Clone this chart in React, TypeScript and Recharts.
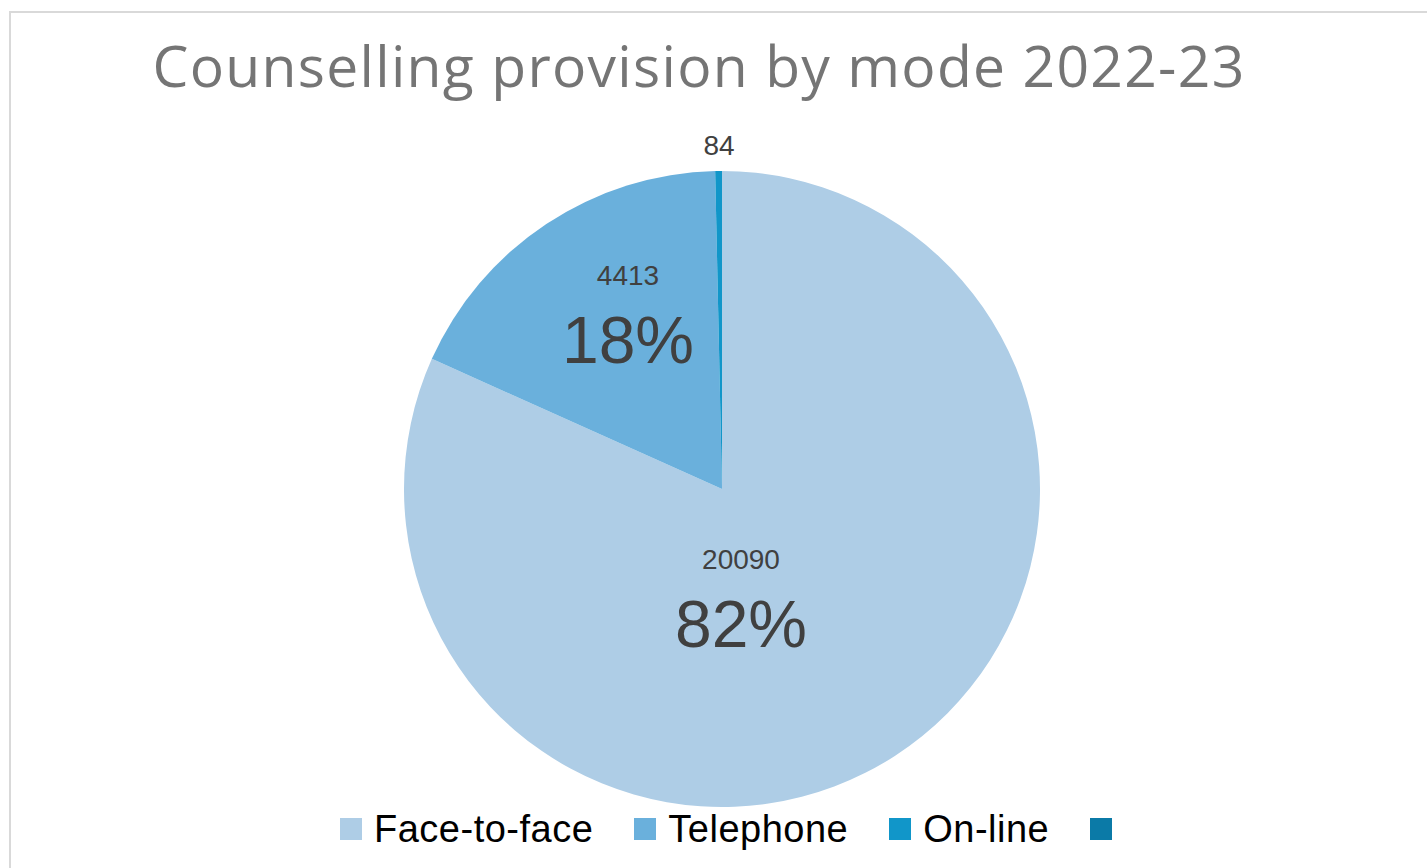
import React from 'react';
import { PieChart, Pie, Cell } from 'recharts';

const modes = ['Face-to-face', 'Telephone', 'On-line', ''];
const sessions = [20090, 4413, 84, 0];
const colors = ['#AECDE6', '#6AB0DC', '#1196C9', '#0B7AA7'];

const total = sessions.reduce((a, b) => a + b, 0);
const data = modes.map((name, i) => ({ name, value: sessions[i] }));

// where Excel's "best fit" put each data label, relative to the pie centre
const labelOffsets = [
  { dx: 19, dy: 80, pct: true },
  { dx: -94, dy: -204, pct: true },
  { dx: -3, dy: -334, pct: false },
];

const labelFont = "'Liberation Sans', Arial, sans-serif";

function renderLabel(props: any) {
  const { cx, cy, index, value } = props;
  const off = labelOffsets[index];
  if (!off || !value) return null;
  const x = cx + off.dx;
  const y = cy + off.dy;
  return (
    <g key={`lbl-${index}`}>
      <text x={x} y={y} textAnchor="middle" fill="#404040" fontSize={28} fontFamily={labelFont}>
        {value}
      </text>
      {off.pct && (
        <text x={x} y={y + 78} textAnchor="middle" fill="#404040" fontSize={66} fontFamily={labelFont}>
          {Math.round((value / total) * 100)}%
        </text>
      )}
    </g>
  );
}

export default function App() {
  return (
    <div style={{ position: 'fixed', left: 0, top: 0, width: 1427, height: 868, overflow: 'hidden', background: '#fff' }}>
      <div
        style={{
          position: 'absolute',
          left: 9,
          top: 11,
          width: 1440,
          height: 900,
          border: '2px solid #d9d9d9',
          boxSizing: 'border-box',
        }}
      />
      <div
        style={{
          position: 'absolute',
          left: 0,
          top: 27,
          width: 1398,
          textAlign: 'center',
          fontFamily: "'Open Sans', sans-serif",
          fontSize: 57,
          letterSpacing: 1.3,
          lineHeight: '76px',
          color: '#757575',
          whiteSpace: 'nowrap',
        }}
      >
        Counselling provision by mode 2022-23
      </div>
      <div style={{ position: 'absolute', left: 0, top: 0 }}>
        <PieChart width={1427} height={868} margin={{ top: 0, right: 0, bottom: 0, left: 0 }}>
          <Pie
            data={data}
            dataKey="value"
            nameKey="name"
            cx={722}
            cy={489}
            outerRadius={318}
            startAngle={90}
            endAngle={-270}
            stroke="none"
            label={renderLabel}
            labelLine={false}
            isAnimationActive={false}
          >
            {data.map((d, i) => (
              <Cell key={d.name + i} fill={colors[i]} />
            ))}
          </Pie>
        </PieChart>
      </div>
      <div
        style={{
          position: 'absolute',
          left: 340,
          top: 808,
          display: 'flex',
          alignItems: 'center',
          fontFamily: labelFont,
          fontSize: 38,
          letterSpacing: 0.5,
          color: '#000',
          whiteSpace: 'nowrap',
        }}
      >
        {modes.map((m, i) => (
          <div key={i} style={{ display: 'flex', alignItems: 'center', marginRight: 41 }}>
            <span style={{ display: 'inline-block', width: 22, height: 22, background: colors[i], marginRight: 12 }} />
            <span style={{ lineHeight: '42px' }}>{m}</span>
          </div>
        ))}
      </div>
    </div>
  );
}
